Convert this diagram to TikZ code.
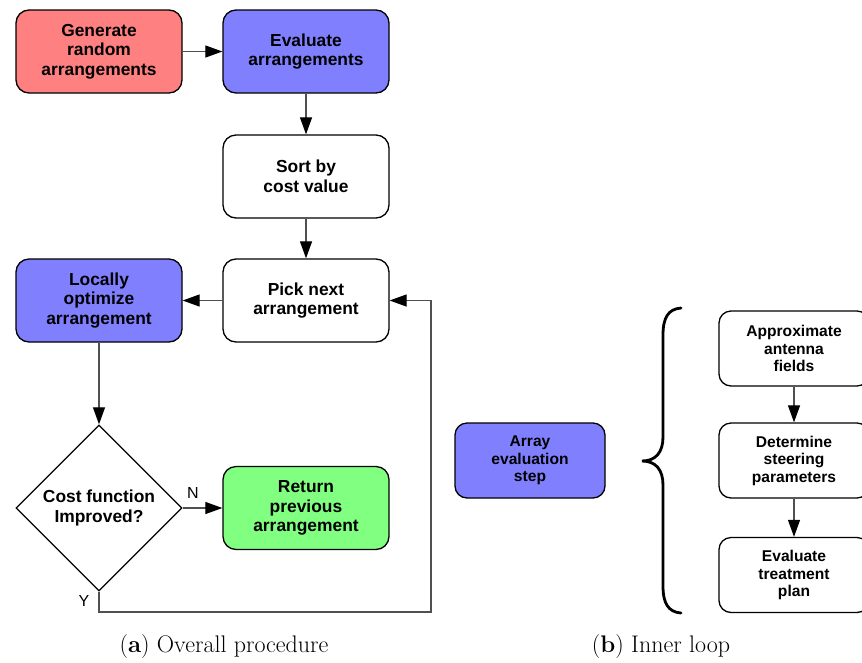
\documentclass[tikz,border=0pt]{standalone}
\usepackage{fontspec}
\newfontfamily\arialf{Liberation Sans}
\usetikzlibrary{arrows.meta,shapes.geometric}
\definecolor{boxred}{HTML}{FF8080}
\definecolor{boxblue}{HTML}{8080FF}
\definecolor{boxgreen}{HTML}{80FF80}
\definecolor{linegray}{HTML}{505050}
\tikzset{
  flowbox/.style={draw=black, line width=1.3pt, rounded corners=13pt, rectangle,
    minimum width=166pt, minimum height=83pt, inner sep=0pt, align=center,
    font=\arialf\bfseries\fontsize{17.4}{19.5}\selectfont},
  smallbox/.style={draw=black, line width=1.3pt, rounded corners=12pt, rectangle,
    minimum width=150pt, minimum height=75pt, inner sep=0pt, align=center,
    font=\arialf\bfseries\fontsize{15.6}{17.5}\selectfont},
  decision/.style={draw=black, line width=1.3pt, diamond, aspect=1,
    minimum width=166pt, minimum height=166pt, inner sep=0pt, align=center,
    font=\arialf\bfseries\fontsize{17.4}{19.5}\selectfont},
  conn/.style={draw=linegray, line width=1.2pt, -{Triangle[length=17pt,width=12pt,fill=black,color=black]}},
  lbl/.style={font=\arialf\fontsize{16}{18}\selectfont, inner sep=0pt},
  caption/.style={font=\fontsize{24}{28}\selectfont, inner sep=0pt}
}
\begin{document}
\begin{tikzpicture}[x=1pt,y=-1pt]
\useasboundingbox (0,0) rectangle (862,662);
% left flowchart
\node[flowbox, fill=boxred] (gen) at (99,51.5) {Generate\\random\\arrangements};
\node[flowbox, fill=boxblue] (eval) at (306,51.5) {Evaluate\\arrangements};
\node[flowbox, fill=white] (sort) at (306,176.5) {Sort by\\cost value};
\node[flowbox, fill=white] (pick) at (306,300.5) {Pick next\\arrangement};
\node[flowbox, fill=boxblue] (local) at (99,300.5) {Locally\\optimize\\arrangement};
\node[decision, fill=white] (dia) at (99,508) {Cost function\\Improved?};
\node[flowbox, fill=boxgreen] (ret) at (306,508) {Return\\previous\\arrangement};
\coordinate (c1) at (431,612);

\draw[conn] (gen) -- (eval);
\draw[conn] (eval) -- (sort);
\draw[conn] (sort) -- (pick);
\draw[conn] (pick) -- (local);
\draw[conn] (local) -- (dia);
\draw[conn] (dia.east) -- (ret.west);
\draw[conn] (dia.south) |- (c1) |- (pick.east);
\node[lbl] (nlab) at (193,493) {N};
\node[lbl] (ylab) at (84,601) {Y};

% right part
\node[smallbox, fill=boxblue] (arr) at (530,460.5) {Array\\evaluation\\step};
\node[smallbox, fill=white] (appr) at (794,348.5) {Approximate\\antenna\\fields};
\node[smallbox, fill=white] (det) at (794,460.5) {Determine\\steering\\parameters};
\node[smallbox, fill=white] (evt) at (794,575) {Evaluate\\treatment\\plan};
\draw[conn] (appr) -- (det);
\draw[conn] (det) -- (evt);
\draw[line width=2.8pt, line cap=round] (681,308) .. controls (668,309) and (663,318) .. (663,335) -- (663,437)
  .. controls (663,452) and (656,461) .. (642,461)
  .. controls (656,461) and (663,470) .. (663,485) -- (663,586)
  .. controls (663,603) and (668,612) .. (681,613);

% captions
\node[caption] (capa) at (224,647) {(\textbf{a}) Overall procedure};
\node[caption] (capb) at (661,647) {(\textbf{b}) Inner loop};
\end{tikzpicture}
\end{document}
